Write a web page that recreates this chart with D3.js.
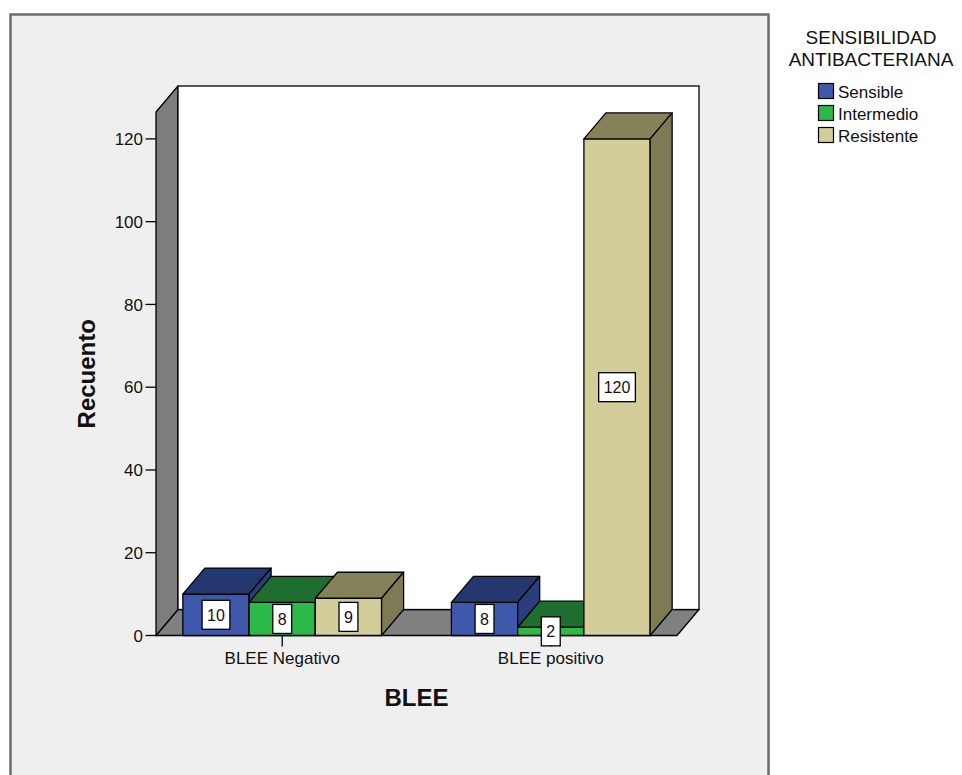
<!DOCTYPE html>
<html>
<head>
<meta charset="utf-8">
<script src="https://cdn.jsdelivr.net/npm/d3@7"></script>
<style>
  body { margin: 0; background: #ffffff; }
  text { font-family: "Liberation Sans", Arial, sans-serif; fill: #111; }
</style>
</head>
<body>
<svg id="chart" width="962" height="775"></svg>
<script>
// Recuento por BLEE y sensibilidad antibacteriana
const categories = ["BLEE Negativo", "BLEE positivo"];
const seriesNames = ["Sensible", "Intermedio", "Resistente"];
const sensible = [10, 8];
const intermedio = [8, 2];
const resistente = [9, 120];
const yTicks = [0, 20, 40, 60, 80, 100, 120];

const seriesValues = [sensible, intermedio, resistente];
const faceColors = [
  { front: "#3e59ab", top: "#25376f", side: "#2a3d7c" },
  { front: "#2db84a", top: "#1f6e2f", side: "#1c642b" },
  { front: "#d3ce99", top: "#85825a", side: "#7e7b54" }
];

const svg = d3.select("#chart");

// 3D depth offset of the box
const dx = 22, dy = 26;
const floorY = 635.5;

const x = d3.scaleBand().domain(categories).range([156, 677])
  .paddingInner(0.26).paddingOuter(0.1);
const xInner = d3.scaleBand().domain(seriesNames).range([0, x.bandwidth()]).padding(0);
const y = d3.scaleLinear().domain([0, 126.5]).range([floorY, 112]);

// chart frame
svg.append("rect").attr("x", 10.5).attr("y", 14.5).attr("width", 758).attr("height", 800)
  .attr("fill", "#efefef").attr("stroke", "#6c6c6c").attr("stroke-width", 2.5);

const x0 = x.range()[0], x1 = x.range()[1];
const yTop = y(y.domain()[1]);
const pts = a => a.map(p => p.join(",")).join(" ");

// floor
svg.append("polygon")
  .attr("points", pts([[x0, floorY], [x1, floorY], [x1 + dx, floorY - dy], [x0 + dx, floorY - dy]]))
  .attr("fill", "#808080").attr("stroke", "#000").attr("stroke-width", 1.3).attr("stroke-linejoin", "round");
// left wall
svg.append("polygon")
  .attr("points", pts([[x0, floorY], [x0, yTop], [x0 + dx, yTop - dy], [x0 + dx, floorY - dy]]))
  .attr("fill", "#7d7d7d").attr("stroke", "#000").attr("stroke-width", 1.3).attr("stroke-linejoin", "round");
// back wall
svg.append("rect")
  .attr("x", x0 + dx).attr("y", yTop - dy).attr("width", x1 - x0).attr("height", floorY - yTop)
  .attr("fill", "#ffffff").attr("stroke", "#000").attr("stroke-width", 1.3);

// bars
const labels = [];
categories.forEach((cat, ci) => {
  seriesNames.forEach((s, si) => {
    const v = seriesValues[si][ci];
    const bx0 = x(cat) + xInner(s);
    const bx1 = bx0 + xInner.bandwidth();
    const by = y(v);
    const c = faceColors[si];
    const g = svg.append("g").attr("stroke", "#000").attr("stroke-width", 1.3).attr("stroke-linejoin", "round");
    g.append("rect").attr("x", bx0).attr("y", by).attr("width", bx1 - bx0).attr("height", floorY - by)
      .attr("fill", c.front);
    g.append("polygon").attr("points", pts([[bx0, by], [bx1, by], [bx1 + dx, by - dy], [bx0 + dx, by - dy]]))
      .attr("fill", c.top);
    g.append("polygon").attr("points", pts([[bx1, by], [bx1 + dx, by - dy], [bx1 + dx, floorY - dy], [bx1, floorY]]))
      .attr("fill", c.side);
    labels.push({ v, cx: (bx0 + bx1) / 2, cy: (by + floorY) / 2 });
  });
});

// y axis
const yAxis = svg.append("g");
yTicks.forEach(t => {
  yAxis.append("line").attr("x1", 145.5).attr("x2", x0).attr("y1", y(t)).attr("y2", y(t))
    .attr("stroke", "#000").attr("stroke-width", 1.3);
  yAxis.append("text").attr("x", 143).attr("y", y(t)).attr("dy", "0.36em")
    .attr("text-anchor", "end").attr("font-size", 17).text(t);
});

// x axis
categories.forEach(cat => {
  const cx = x(cat) + x.bandwidth() / 2;
  svg.append("line").attr("x1", cx).attr("x2", cx).attr("y1", floorY).attr("y2", 646.5)
    .attr("stroke", "#000").attr("stroke-width", 1.3);
  svg.append("text").attr("x", cx).attr("y", 664).attr("text-anchor", "middle")
    .attr("font-size", 17).text(cat);
});

// value labels
labels.forEach(d => {
  const g = svg.append("g");
  const t = g.append("text").attr("x", d.cx).attr("y", d.cy).attr("dy", "0.36em")
    .attr("text-anchor", "middle").attr("font-size", 16).text(d.v);
  const w = t.node().getComputedTextLength() + 10;
  g.insert("rect", "text").attr("x", d.cx - w / 2).attr("y", d.cy - 14.5)
    .attr("width", w).attr("height", 29)
    .attr("fill", "#fff").attr("stroke", "#000").attr("stroke-width", 1.3);
});

// axis titles
svg.append("text").attr("x", (x0 + x1) / 2).attr("y", 706).attr("text-anchor", "middle")
  .attr("font-size", 24).attr("font-weight", "bold").text("BLEE");
svg.append("text").attr("transform", `translate(95,${(y(0) + yTop) / 2}) rotate(-90)`)
  .attr("text-anchor", "middle").attr("font-size", 24).attr("font-weight", "bold").text("Recuento");

// legend
const legend = svg.append("g");
legend.append("text").attr("x", 871).attr("y", 44).attr("text-anchor", "middle")
  .attr("font-size", 19).text("SENSIBILIDAD");
legend.append("text").attr("x", 871).attr("y", 66).attr("text-anchor", "middle")
  .attr("font-size", 19).text("ANTIBACTERIANA");
seriesNames.forEach((s, i) => {
  const ty = 83 + i * 22;
  legend.append("rect").attr("x", 818.5).attr("y", ty + 0.5).attr("width", 15).attr("height", 15)
    .attr("fill", faceColors[i].front).attr("stroke", "#000").attr("stroke-width", 1.2);
  legend.append("text").attr("x", 838).attr("y", ty + 15).attr("font-size", 17).text(s);
});
</script>
</body>
</html>
